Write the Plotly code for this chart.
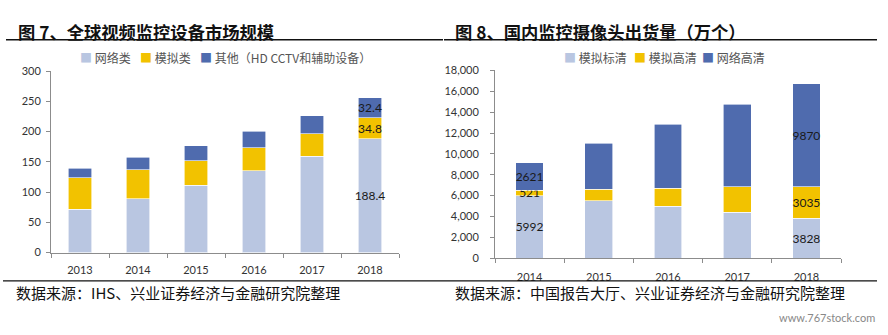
import plotly.graph_objects as go

# Figure 7: global video surveillance equipment market size
years_l = ["2013", "2014", "2015", "2016", "2017", "2018"]
network_l = [72, 89, 111, 135, 159.5, 188.4]
analog_l = [52, 47.7, 41, 38, 37, 34.8]
other_l = [15.5, 20.7, 25, 27.5, 29.7, 32.4]
names_l = ["网络类", "模拟类", "其他（HD CCTV和辅助设备）"]
yticks_l = [0, 50, 100, 150, 200, 250, 300]

# Figure 8: domestic surveillance camera shipments (10k units)
years_r = ["2014", "2015", "2016", "2017", "2018"]
analog_sd = [5992, 5528, 4975, 4392, 3828]
analog_hd = [521, 1075, 1751, 2457, 3035]
network_hd = [2621, 4392, 6112, 7893, 9870]
names_r = ["模拟标清", "模拟高清", "网络高清"]
yticks_r = list(range(0, 18001, 2000))

# labels shown only on selected bars
labels_l = {"2018"}
labels_r = {"2014", "2018"}

C_LIGHT = "#B9C6E1"
C_YEL = "#F2C200"
C_DARK = "#4F6BAE"
colors = [C_LIGHT, C_YEL, C_DARK]

W, H = 888, 335
FONT = "Lato, 'Noto Sans CJK SC', sans-serif"
CJK = "'Noto Sans CJK SC', sans-serif"

fig = go.Figure()


def fmt(v):
    return f"{v:g}"


def px_x(p):
    return p / W


def px_y(p):
    return 1 - p / H


for vals, name, col in zip([network_l, analog_l, other_l], names_l, colors):
    fig.add_trace(go.Bar(
        x=years_l, y=vals, name=name, marker=dict(color=col, line=dict(color="white", width=0.6)),
        width=0.4, xaxis="x", yaxis="y", showlegend=False,
        text=[fmt(v) if c in labels_l else "" for c, v in zip(years_l, vals)],
        textposition="inside", insidetextanchor="middle", textangle=0,
        textfont=dict(family=FONT, size=12, color="#1a1a1a"),
        constraintext="none", cliponaxis=False,
    ))

for vals, name, col in zip([analog_sd, analog_hd, network_hd], names_r, colors):
    fig.add_trace(go.Bar(
        x=years_r, y=vals, name=name, marker=dict(color=col, line=dict(color="white", width=0.6)),
        width=0.4, xaxis="x2", yaxis="y2", showlegend=False,
        text=[fmt(v) if c in labels_r else "" for c, v in zip(years_r, vals)],
        textposition="inside", insidetextanchor="middle", textangle=0,
        textfont=dict(family=FONT, size=12, color="#1a1a1a"),
        constraintext="none", cliponaxis=False,
    ))

axis_common = dict(
    showline=True, linecolor="#8c8c8c", linewidth=1, ticks="outside",
    tickcolor="#8c8c8c", ticklen=4, showgrid=False, zeroline=False,
    tickfont=dict(family=FONT, size=11, color="#333333"), fixedrange=True,
)

fig.update_layout(
    width=W, height=H, margin=dict(l=0, r=0, t=0, b=0),
    paper_bgcolor="white", plot_bgcolor="white", barmode="stack",
    uniformtext=dict(mode=False), showlegend=False,
    xaxis=dict(domain=[px_x(51), px_x(399)], anchor="y", tickson="boundaries",
               type="category", ticklabelstandoff=7, **axis_common),
    yaxis=dict(domain=[px_y(255.5), px_y(66.7)], anchor="x", range=[0, 300],
               tickvals=yticks_l, ticklabelstandoff=3, **axis_common),
    xaxis2=dict(domain=[px_x(495), px_x(841)], anchor="y2", tickson="boundaries",
                type="category", ticklabelstandoff=9, **axis_common),
    yaxis2=dict(domain=[px_y(261.3), px_y(66)], anchor="x2", range=[0, 18000],
                tickvals=yticks_r, tickformat=",d", ticklabelstandoff=9, **axis_common),
)

# legend entries: coloured square + series name
legend_pos_l = [82, 142, 202]
legend_pos_r = [566, 636, 704]
for names, xs in [(names_l, legend_pos_l), (names_r, legend_pos_r)]:
    for name, col, xp in zip(names, colors, xs):
        fig.add_annotation(
            text=f"<span style='color:{col}'>■</span> {name}", x=px_x(xp - 4), y=px_y(53),
            xref="paper", yref="paper", xanchor="left", yanchor="middle", showarrow=False,
            font=dict(family=CJK, size=12, color="#555555"))

# titles, rules and source notes
fig.add_annotation(text="<b>图 7、全球视频监控设备市场规模</b>", x=px_x(16), y=px_y(25),
                   xref="paper", yref="paper", xanchor="left", yanchor="middle",
                   showarrow=False, font=dict(family=CJK, size=17.3, color="#111111"))
fig.add_annotation(text="<b>图 8、国内监控摄像头出货量（万个）</b>", x=px_x(453), y=px_y(25),
                   xref="paper", yref="paper", xanchor="left", yanchor="middle",
                   showarrow=False, font=dict(family=CJK, size=17.3, color="#111111"))
fig.add_shape(type="line", xref="paper", yref="paper", x0=px_x(6), x1=px_x(443),
              y0=px_y(34), y1=px_y(34), line=dict(color="#111111", width=1.5))
fig.add_shape(type="line", xref="paper", yref="paper", x0=px_x(444), x1=px_x(877),
              y0=px_y(34), y1=px_y(34), line=dict(color="#111111", width=1.5))
fig.add_shape(type="line", xref="paper", yref="paper", x0=px_x(3), x1=px_x(877),
              y0=px_y(285), y1=px_y(285), line=dict(color="#111111", width=1.2))
fig.add_annotation(text="数据来源：IHS、兴业证券经济与金融研究院整理", x=px_x(14), y=px_y(297),
                   xref="paper", yref="paper", xanchor="left", yanchor="middle",
                   showarrow=False, font=dict(family=CJK, size=15, color="#111111"))
fig.add_annotation(text="数据来源：中国报告大厅、兴业证券经济与金融研究院整理", x=px_x(453), y=px_y(297),
                   xref="paper", yref="paper", xanchor="left", yanchor="middle",
                   showarrow=False, font=dict(family=CJK, size=15, color="#111111"))
fig.add_annotation(text="www.767stock.com", x=px_x(877), y=px_y(323),
                   xref="paper", yref="paper", xanchor="right", yanchor="middle",
                   showarrow=False, font=dict(family=FONT, size=11, color="#888888"))

fig.write_html("out.html")
